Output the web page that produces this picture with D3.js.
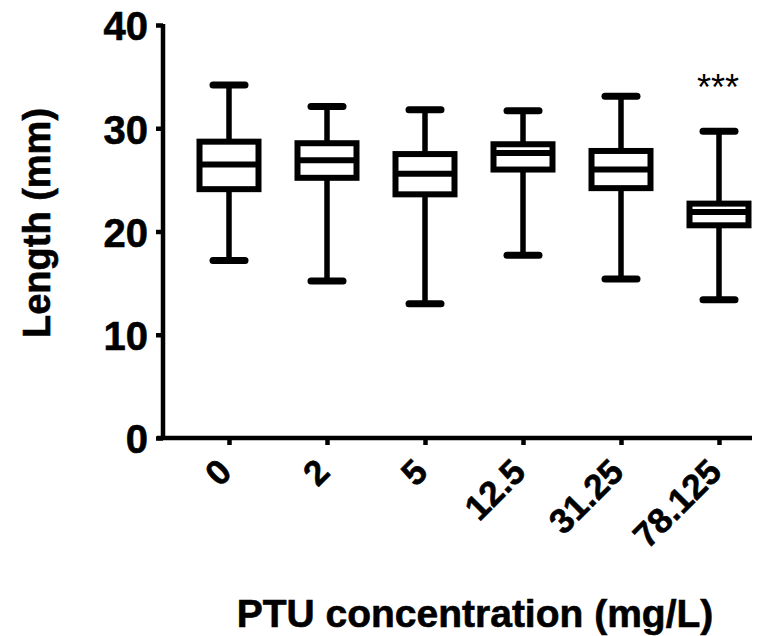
<!DOCTYPE html>
<html>
<head>
<meta charset="utf-8">
<script src="https://cdn.jsdelivr.net/npm/d3@7"></script>
<style>
  html, body { margin: 0; padding: 0; background: #fff; }
  svg { display: block; }
  text { font-family: Arial, "Liberation Sans", Helvetica, sans-serif; fill: #000; }
  text.heavy { stroke: #000; stroke-width: 0.6px; }
</style>
</head>
<body>
<svg id="chart" width="778" height="636"></svg>
<script>
// ---- data ----
const categories = ["0", "2", "5", "12.5", "31.25", "78.125"];
const whiskerMin = [17.2, 15.2, 13.0, 17.7, 15.4, 13.4];
const q1         = [24.1, 25.2, 23.6, 26.0, 24.2, 20.6];
const median     = [26.5, 26.9, 25.6, 27.6, 26.0, 21.9];
const q3         = [28.7, 28.55, 27.5, 28.45, 27.8, 22.7];
const whiskerMax = [34.2, 32.1, 31.8, 31.7, 33.1, 29.7];
const yTicks = [0, 10, 20, 30, 40];
const significance = ["", "", "", "", "", "***"];

const svg = d3.select("#chart");

const y = d3.scaleLinear().domain([0, 40]).range([438, 25]);
const x = d3.scalePoint().domain(categories).range([229, 719]);

const axisX0 = 163, axisY0 = 438;

// Y axis
const yAxis = d3.axisLeft(y).tickValues(yTicks).tickSize(7).tickPadding(8).tickFormat(d3.format("d"));
const gy = svg.append("g").attr("transform", `translate(${axisX0},0)`).call(yAxis);
gy.select(".domain").attr("stroke", "#000").attr("stroke-width", 4.5)
  .attr("d", `M0,${y(40) - 1}V${axisY0}`);
gy.selectAll(".tick line").attr("stroke", "#000").attr("stroke-width", 4.5);
gy.selectAll(".tick text")
  .attr("class", "heavy")
  .attr("font-size", 40).attr("font-weight", "bold")
  .attr("dy", "0.37em");

// X axis
const xAxis = d3.axisBottom(x).tickSize(7).tickFormat(d => d);
const gx = svg.append("g").attr("transform", `translate(0,${axisY0})`).call(xAxis);
gx.select(".domain").attr("stroke", "#000").attr("stroke-width", 4.5)
  .attr("d", `M${axisX0 - 6},0H752`);
gx.selectAll(".tick line").attr("stroke", "#000").attr("stroke-width", 4.5);
gx.selectAll(".tick text")
  .attr("class", "heavy")
  .attr("font-size", 35).attr("font-weight", "bold")
  .attr("text-anchor", "end")
  .attr("x", 0).attr("y", 0).attr("dy", 0)
  .attr("transform", "translate(4,36) rotate(-45)");

// Boxes
const boxW = 59, capHalf = 16;
const data = categories.map((c, i) => ({
  c, min: whiskerMin[i], q1: q1[i], med: median[i], q3: q3[i], max: whiskerMax[i], sig: significance[i]
}));

const g = svg.append("g");
const box = g.selectAll("g.box").data(data).join("g").attr("class", "box");

// whiskers
box.append("line")
  .attr("x1", d => x(d.c)).attr("x2", d => x(d.c))
  .attr("y1", d => y(d.max)).attr("y2", d => y(d.q3))
  .attr("stroke", "#000").attr("stroke-width", 5.5);
box.append("line")
  .attr("x1", d => x(d.c)).attr("x2", d => x(d.c))
  .attr("y1", d => y(d.q1)).attr("y2", d => y(d.min))
  .attr("stroke", "#000").attr("stroke-width", 5.5);
// caps
["max", "min"].forEach(k => {
  box.append("line")
    .attr("x1", d => x(d.c) - capHalf).attr("x2", d => x(d.c) + capHalf)
    .attr("y1", d => y(d[k])).attr("y2", d => y(d[k]))
    .attr("stroke", "#000").attr("stroke-width", 7).attr("stroke-linecap", "round");
});
// box rect
box.append("rect")
  .attr("x", d => x(d.c) - boxW / 2).attr("width", boxW)
  .attr("y", d => y(d.q3)).attr("height", d => y(d.q1) - y(d.q3))
  .attr("fill", "#fff").attr("stroke", "#000").attr("stroke-width", 6);
// median
box.append("line")
  .attr("x1", d => x(d.c) - boxW / 2).attr("x2", d => x(d.c) + boxW / 2)
  .attr("y1", d => y(d.med)).attr("y2", d => y(d.med))
  .attr("stroke", "#000").attr("stroke-width", 6);

// significance
box.filter(d => d.sig).append("text")
  .attr("x", d => x(d.c) - 1).attr("y", 100)
  .attr("text-anchor", "middle").attr("font-size", 36)
  .text(d => d.sig);

// Axis titles
svg.append("text")
  .attr("class", "heavy")
  .attr("x", 475).attr("y", 627)
  .attr("text-anchor", "middle").attr("font-size", 39).attr("font-weight", "bold")
  .text("PTU concentration (mg/L)");

svg.append("text")
  .attr("class", "heavy")
  .attr("transform", "translate(50,223) rotate(-90)")
  .attr("text-anchor", "middle").attr("font-size", 38).attr("font-weight", "bold")
  .text("Length (mm)");
</script>
</body>
</html>
